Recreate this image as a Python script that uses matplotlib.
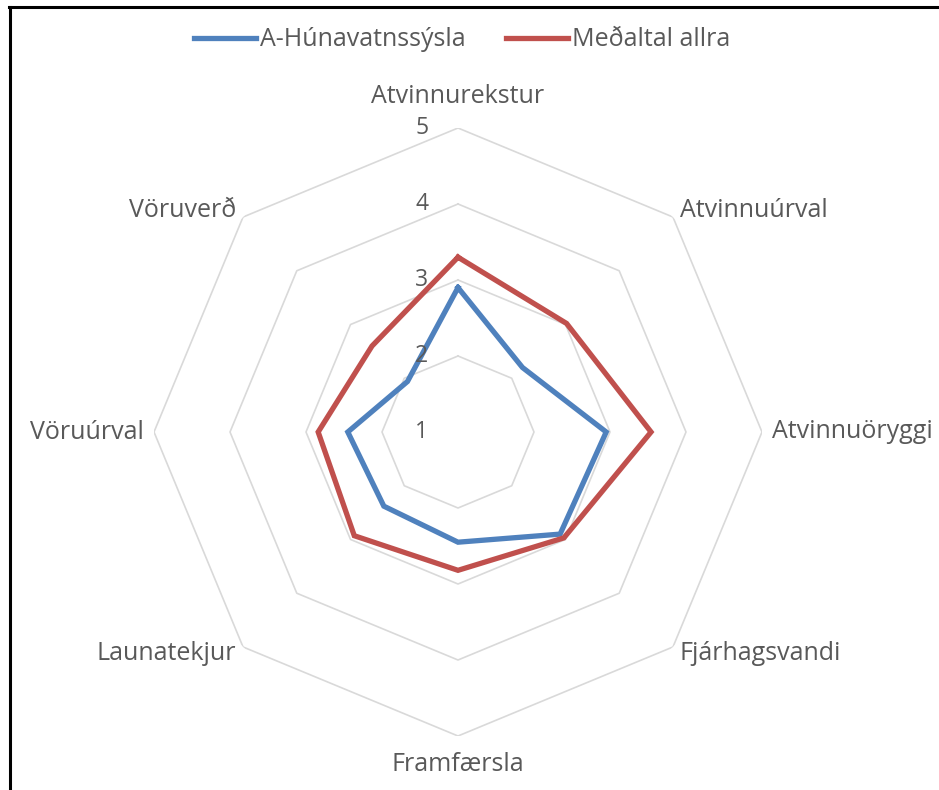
import numpy as np
import matplotlib
matplotlib.use("Agg")
import matplotlib.pyplot as plt
from matplotlib.lines import Line2D

categories = ["Atvinnurekstur", "Atvinnuúrval", "Atvinnuöryggi", "Fjárhagsvandi",
              "Framfærsla", "Launatekjur", "Vöruúrval", "Vöruverð"]
series_names = ["A-Húnavatnssýsla", "Meðaltal allra"]
hunavatn = [2.9, 2.2, 2.95, 2.9, 2.45, 2.38, 2.45, 1.94]
medaltal = [3.3, 3.02, 3.54, 2.97, 2.82, 2.93, 2.84, 2.6]
r_ticks = [1, 2, 3, 4, 5]

BLUE = "#4F81BD"
RED = "#C0504D"
GRID = "#D9D9D9"
TXT = "#595959"
FONT = ["Open Sans", "DejaVu Sans"]
plt.rcParams["font.family"] = FONT

W, H = 939, 790
fig = plt.figure(figsize=(W / 100, H / 100), dpi=100)
cx, cy, R = 458, 432, 304
ax = fig.add_axes([(cx - R) / W, (H - cy - R) / H, 2 * R / W, 2 * R / H], projection="polar")
ax.set_theta_zero_location("N")
ax.set_theta_direction(-1)
ax.set_ylim(1, 5)
ax.grid(False)
ax.spines["polar"].set_visible(False)
ax.set_xticks([])
ax.set_yticks([])
ax.patch.set_alpha(0)

n = len(categories)
theta = np.arange(n) * 2 * np.pi / n
theta_c = np.append(theta, theta[0])

for r in r_ticks[1:]:
    ax.plot(theta_c, [r] * (n + 1), color=GRID, lw=1.2, zorder=1)

ax.plot(theta_c, hunavatn + hunavatn[:1], color=BLUE, lw=3.8, zorder=3, solid_joinstyle="miter")
ax.plot(theta_c, medaltal + medaltal[:1], color=RED, lw=3.8, zorder=3, solid_joinstyle="miter")

for r in r_ticks:
    ax.annotate(str(r), xy=(0, r), xytext=(-26, 0), textcoords="offset points",
                ha="center", va="center", fontsize=16.5, color=TXT)

for i, (t, lab) in enumerate(zip(theta, categories)):
    s, c = np.sin(t), np.cos(t)
    if abs(s) < 1e-6:
        ha = "center"
        rr = 5.42 if c > 0 else 5.38
    elif s > 0:
        ha = "left"
        rr = 5.13
    else:
        ha = "right"
        rr = 5.13
    ax.text(t, rr, lab, ha=ha, va="center", fontsize=18, color=TXT)

handles = [Line2D([], [], color=BLUE, lw=3.8), Line2D([], [], color=RED, lw=3.8)]
leg = fig.legend(handles, series_names, loc="center", bbox_to_anchor=(462 / W, 1 - 40 / H),
                 ncol=2, frameon=False, fontsize=18, handlelength=2.5, handletextpad=0.15,
                 columnspacing=1.6, borderpad=0, borderaxespad=0)
for t in leg.get_texts():
    t.set_color(TXT)

# border lines (top and left only)
fig.add_artist(Line2D([10 / W, 10 / W], [0, 1 - 7 / H], color="black", lw=2.2, transform=fig.transFigure))
fig.add_artist(Line2D([9 / W, 1], [1 - 7 / H, 1 - 7 / H], color="black", lw=2.2, transform=fig.transFigure))

fig.savefig("out.png", dpi=100, facecolor="white")
